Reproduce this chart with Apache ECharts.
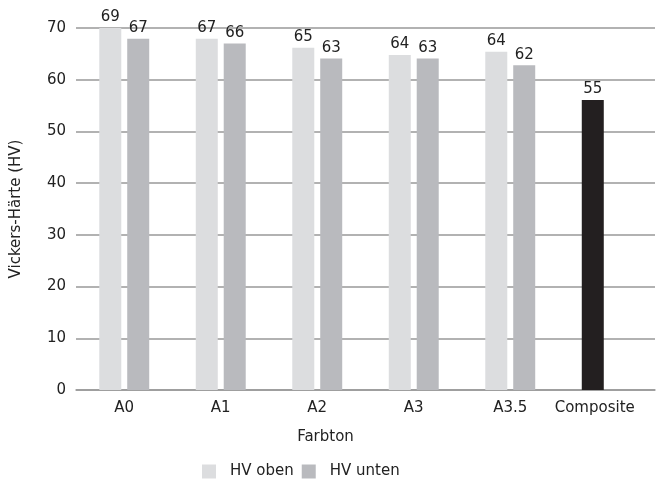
<!DOCTYPE html>
<html>
<head>
<meta charset="utf-8">
<script src="https://cdn.jsdelivr.net/npm/echarts@6/dist/echarts.min.js"></script>
<style>
  html, body { margin: 0; padding: 0; background: #fff; }
  #main { width: 656px; height: 481px; }
</style>
</head>
<body>
<div id="main"></div>
<script>
    // Farbtöne
    var categories = ['A0', 'A1', 'A2', 'A3', 'A3.5', 'Composite'];
    // Balkenhöhen
    var hvOben = [70, 67.9, 66.2, 64.8, 65.4, 56.1];
    var hvUnten = [67.9, 67, 64.1, 64.1, 62.8, null];
    // beschriftete Werte über den Balken
    var hvObenLabels = [69, 67, 65, 64, 64, 55];
    var hvUntenLabels = [67, 66, 63, 63, 62, null];
    var yTicks = { min: 0, max: 70, interval: 10 };

    var font = 'DejaVu Sans';
    var txt = '#222';

    var obenData = hvOben.map(function (v, i) {
        if (categories[i] === 'Composite') {
            return { value: v, itemStyle: { color: '#231f20' } };
        }
        return v;
    });

    var myChart = echarts.init(document.getElementById('main'));
    var option = {
        animation: false,
        textStyle: { fontFamily: font },
        grid: { left: 76, right: 1, top: 28, bottom: 91, containLabel: false, outerBoundsMode: 'none' },
        legend: {
            left: 197,
            top: 459,
            itemWidth: 14,
            itemHeight: 14,
            itemGap: 8,
            icon: 'rect',
            textStyle: { fontFamily: font, fontSize: 15, color: txt, padding: [0, 0, 0, 9] },
            data: ['HV oben', 'HV unten']
        },
        xAxis: {
            type: 'category',
            data: categories,
            name: 'Farbton',
            nameLocation: 'middle',
            nameGap: 40,
            nameTextStyle: { fontFamily: font, fontSize: 15, color: txt, padding: [0, 80, 0, 0] },
            axisTick: { show: false },
            axisLine: { lineStyle: { color: '#999', width: 1.5 } },
            axisLabel: {
                interval: 0, fontFamily: font, fontSize: 15, color: txt, margin: 11,
                formatter: function (v) { return v === 'Composite' ? '{c|' + v + '}' : v; },
                rich: { c: { fontFamily: font, fontSize: 15, color: txt, padding: [0, 24, 0, 0] } }
            }
        },
        yAxis: {
            type: 'value',
            min: yTicks.min,
            max: yTicks.max,
            interval: yTicks.interval,
            name: 'Vickers-Härte (HV)',
            nameLocation: 'middle',
            nameGap: 52,
            nameTextStyle: { fontFamily: font, fontSize: 15, color: txt },
            axisLine: { show: false },
            axisTick: { show: false },
            axisLabel: { fontFamily: font, fontSize: 15, color: txt, margin: 10 },
            splitLine: { lineStyle: { color: '#999', width: 1.5 } }
        },
        series: [
            {
                name: 'HV oben',
                type: 'bar',
                barWidth: 22,
                barGap: '27%',
                itemStyle: { color: '#dcdddf' },
                data: obenData,
                label: {
                    show: true,
                    position: 'top',
                    distance: 3,
                    fontFamily: font,
                    fontSize: 15,
                    color: txt,
                    formatter: function (p) { return hvObenLabels[p.dataIndex]; }
                }
            },
            {
                name: 'HV unten',
                type: 'bar',
                barWidth: 22,
                itemStyle: { color: '#b9babe' },
                data: hvUnten,
                label: {
                    show: true,
                    position: 'top',
                    distance: 3,
                    fontFamily: font,
                    fontSize: 15,
                    color: txt,
                    formatter: function (p) { return hvUntenLabels[p.dataIndex]; }
                }
            }
        ]
    };
    myChart.setOption(option);
</script>
</body>
</html>
